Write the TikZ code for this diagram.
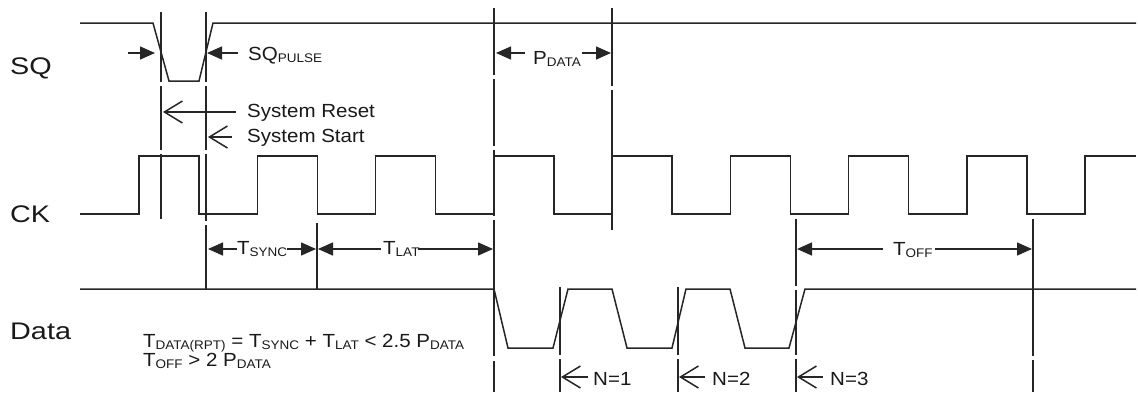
\documentclass[tikz,border=0pt]{standalone}
\usepackage{fontspec}
\setmainfont[FakeStretch=1.08]{Liberation Sans}
\newfontfamily\bigfont[FakeStretch=1.2]{Liberation Sans}
\usetikzlibrary{arrows.meta}
% subscript in the figure's style
\newcommand{\lo}[1]{\raisebox{-2pt}{\fontsize{12.5}{13}\selectfont #1}}
\begin{document}
\begin{tikzpicture}[x=1pt,y=-1pt,
    wave/.style={line width=1.5pt,draw=black!85},
    refline/.style={line width=1.5pt,draw=black!85},
    dim/.style={line width=1.5pt,draw=black!85,-{Triangle[length=15pt,width=13pt]}},
    pick/.style={line width=1.5pt,draw=black!85,-{Straight Barb[length=18pt,width=22pt]}},
    sig/.style={font=\bigfont\fontsize{24}{24}\selectfont,text=black!90,inner sep=0pt,anchor=base west},
    lbl/.style={font=\fontsize{19}{19}\selectfont,text=black!90,inner sep=0pt,anchor=base west}]
    \useasboundingbox (0,0) rectangle (1138,392);
    % signal names
    \node [sig] (sq) at (10,74) {SQ};
    \node [sig] (ck) at (10,222) {CK};
    \node [sig] (data) at (10,339) {Data};
    % waveforms
    \draw [wave] (80,23) -- (153,23) -- (169,81) -- (199,81) -- (213,23) -- (1136,23);
    \draw [wave] (80,214) \foreach \k in {0,...,7} { -- ({139+118.25*\k},214) -- ++(0,-58) -- ++(60,0) -- ++(0,58) } -- (1085,214) -- (1085,156) -- (1136,156);
    \draw [wave] (80,289) -- (494,289) -- (508,348) -- (553,348) -- (568,289) -- (612,289) -- (627,348) -- (672,348) -- (686,289) -- (730,289) -- (745,348) -- (789,348) -- (805,289) -- (1136,289);
    % reference lines
    \foreach \x/\a/\b in {161/12/82, 161/86/150, 161/154/219,
        206/12/82, 206/86/150, 206/154/221, 206/225/289,
        317/223/289,
        494/8/75, 494/79/146, 494/150/216, 494/220/356, 494/361/392,
        612/8/86, 612/90/230,
        560/287/355, 560/359/392, 678/287/355, 678/359/392,
        796/219/286, 796/290/355, 796/359/392,
        1033/219/356, 1033/360/392}
      \draw [refline] (\x,\a) -- (\x,\b);
    % SQ pulse
    \node [lbl] (sqp) at (248,60) {SQ\lo{PULSE}};
    \draw [dim] (128,53) -- (155,53);
    \draw [dim] ([xshift=-10pt,yshift=7pt]sqp.base west) -- (207,53);
    % reset and start
    \node [lbl] (reset) at (247,117) {System Reset};
    \node [lbl] (start) at (247,142) {System Start};
    \draw [pick] ([xshift=-11pt,yshift=5pt]reset.base west) -- (163,112);
    \draw [pick] ([xshift=-15pt,yshift=5pt]start.base west) -- (208,137);
    % data period
    \node [lbl] (pdata) at (533,64) {P\lo{DATA}};
    \draw [dim] ([xshift=-8pt,yshift=11pt]pdata.base west) -- (496,53);
    \draw [dim] (582,53) -- (611,53);
    % sync, latency, off
    \node [lbl] (tsync) at (237,254) {T\lo{SYNC}};
    \node [lbl] (tlat) at (383,254) {T\lo{LAT}};
    \node [lbl] (toff) at (893,255) {T\lo{OFF}};
    \draw [dim] (237,249) -- (208,249);
    \draw [dim] (287,249) -- (316,249);
    \draw [dim] (381,249) -- (318,249);
    \draw [dim] (418,249) -- (493,249);
    \draw [dim] ([xshift=-10pt,yshift=6pt]toff.base west) -- (797,249);
    \draw [dim] (935,249) -- (1032,249);
    % data edges
    \node [lbl] (n1) at (593,385) {N=1};
    \node [lbl] (n2) at (712,385) {N=2};
    \node [lbl] (n3) at (830,385) {N=3};
    \draw [pick] ([xshift=-5pt,yshift=8pt]n1.base west) -- (561,377);
    \draw [pick] ([xshift=-7pt,yshift=8pt]n2.base west) -- (679,377);
    \draw [pick] ([xshift=-7pt,yshift=8pt]n3.base west) -- (797,377);
    % conditions
    \node [lbl] (cond1) at (143,347) {T\lo{DATA(RPT)} = T\lo{SYNC} + T\lo{LAT} < 2.5 P\lo{DATA}};
    \node [lbl] (cond2) at (143,366) {T\lo{OFF} > 2 P\lo{DATA}};
\end{tikzpicture}
\end{document}
